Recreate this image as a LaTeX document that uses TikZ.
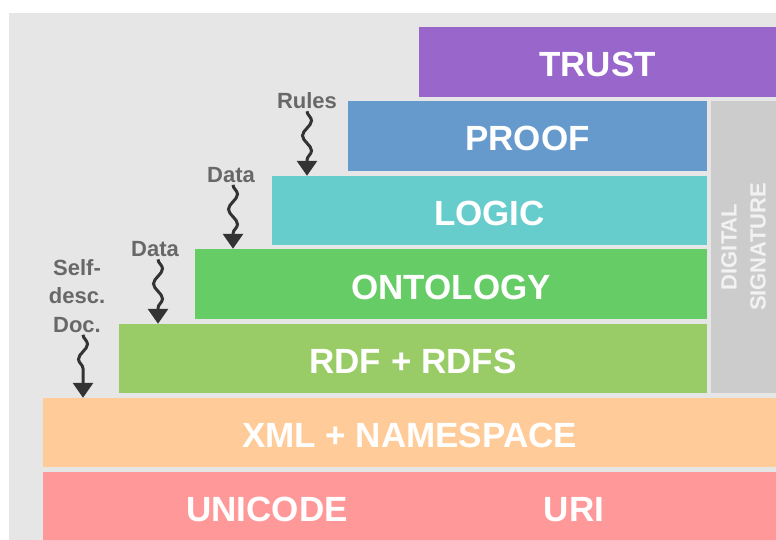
\documentclass[tikz,border=0pt]{standalone}
\usepackage{fontspec}
\setmainfont{Liberation Sans}
\usepackage{tikz}
\usetikzlibrary{arrows.meta,positioning,decorations.pathmorphing}

\definecolor{bggray}{HTML}{E6E6E6}
\definecolor{trustc}{HTML}{9966CC}
\definecolor{proofc}{HTML}{6699CC}
\definecolor{logicc}{HTML}{66CCCC}
\definecolor{ontoc}{HTML}{66CC66}
\definecolor{rdfc}{HTML}{99CC66}
\definecolor{xmlc}{HTML}{FFCC99}
\definecolor{basec}{HTML}{FF9999}
\definecolor{siggray}{HTML}{CCCCCC}
\definecolor{sigtext}{HTML}{F2F2F2}
\definecolor{notegray}{HTML}{686868}
\definecolor{arrowgray}{HTML}{333333}

\begin{document}
\begin{tikzpicture}[x=1pt, y=-1pt,
  layer/.style={rectangle, inner sep=0pt, text=white,
    font=\fontsize{35}{40}\selectfont\bfseries, text height=30pt, text depth=0pt},
  sigbox/.style={rectangle, inner sep=0pt, fill=siggray, text=sigtext,
    font=\fontsize{22}{29}\selectfont\bfseries, align=center},
  note/.style={inner sep=2pt, text=notegray,
    font=\fontsize{22}{28.5}\selectfont\bfseries, align=center},
  wavy/.style={draw=arrowgray, line width=3pt, decorate,
    decoration={snake, amplitude=4.5pt, segment length=30pt, post length=15pt},
    -{Triangle[width=20pt,length=15pt]}}
]
\useasboundingbox (0,0) rectangle (776,540);
\fill[white] (0,0) rectangle (776,540);
\fill[bggray] (9,13) rectangle (776,540);

% Layers
\node[layer, fill=trustc, minimum width=357pt, minimum height=70pt] (trust) at (597.5,62) {TRUST};
\node[layer, fill=proofc, minimum width=359pt, minimum height=70pt] (proof) at (527.5,136) {PROOF};
\node[layer, fill=logicc, minimum width=435pt, minimum height=69pt] (logic) at (489.5,210.5) {LOGIC};
\node[layer, fill=ontoc, minimum width=512pt, minimum height=70pt] (ontology) at (451,284) {ONTOLOGY};
\node[layer, fill=rdfc, minimum width=588pt, minimum height=69pt] (rdf) at (413,358.5) {RDF + RDFS};
\node[layer, fill=xmlc, minimum width=733pt, minimum height=69pt] (xml) at (409.5,432.5) {XML + NAMESPACE};
\node[layer, fill=basec, minimum width=733pt, minimum height=68pt] (base) at (409.5,506) {};
\node[layer] (unicode) at (267,506) {UNICODE};
\node[layer] (uri) at (574,506) {URI};

% Digital signature
\node[sigbox, rotate=90, minimum width=292pt, minimum height=65pt] (sig) at (743.5,247) {DIGITAL\\SIGNATURE};

% Inputs
\node[note] (rules) at (307,101) {Rules};
\node[note] (data2) at (231,175) {Data};
\node[note] (data1) at (155,249.5) {Data};
\node[note] (selfdoc) at (77,296) {Self-\\desc.\\Doc.};

\draw[wavy] (rules.south) -- (rules.south |- logic.north);
\draw[wavy] ([xshift=2pt]data2.south) -- ([xshift=2pt]data2.south |- ontology.north);
\draw[wavy] ([xshift=3pt]data1.south) -- ([xshift=3pt]data1.south |- rdf.north);
\draw[wavy] ([xshift=6pt]selfdoc.south) -- ([xshift=6pt]selfdoc.south |- xml.north);

\end{tikzpicture}
\end{document}
